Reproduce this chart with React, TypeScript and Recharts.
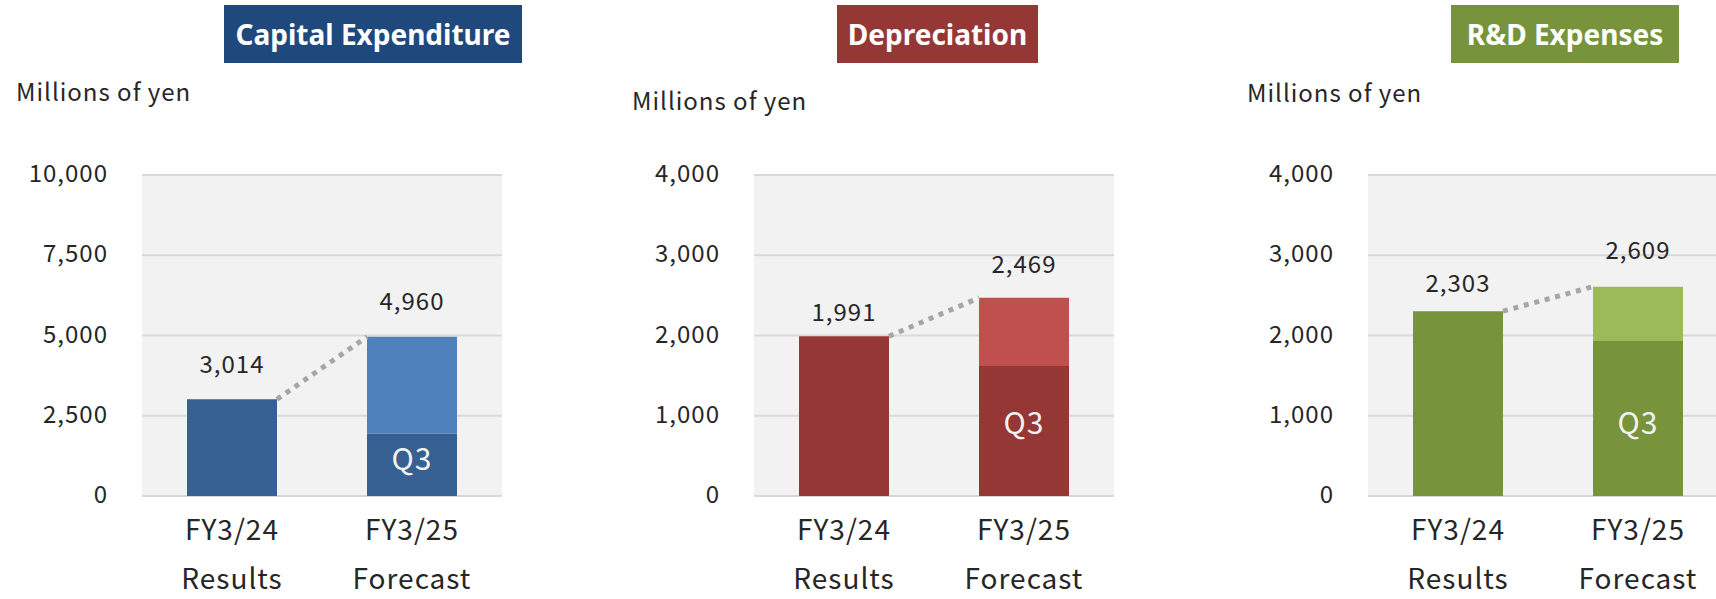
import React from 'react';
import { ComposedChart, Bar, Line, XAxis, YAxis, CartesianGrid, LabelList } from 'recharts';

// categories
const periods = ['FY3/24', 'FY3/25'];
const periodKinds = ['Results', 'Forecast'];
const q3Label = 'Q3';
const unitLabel = 'Millions of yen';

// values (millions of yen); base = full results bar / Q3 actual part of forecast
const capexTotals = [3014, 4960];
const capexBase = [3014, 1940];
const deprTotals = [1991, 2469];
const deprBase = [1991, 1620];
const rdTotals = [2303, 2609];
const rdBase = [2303, 1930];

// y-axis ticks
const capexTicks = [0, 2500, 5000, 7500, 10000];
const smallTicks = [0, 1000, 2000, 3000, 4000];

const FONT = "'Noto Sans CJK JP', 'Noto Sans', sans-serif";
const TEXT = '#262626';
const W = 1716;
const H = 599;
const PLOT_W = 360;
const AXIS_W = 130;
const PLOT_TOP = 175;
const PLOT_BOTTOM = 496;
const BAR_HALF = 0.25; // half bar width in category units (bar = 50% of band)

const buildRows = (totals: number[], base: number[]) =>
  periods.map((p, i) => ({
    period: p,
    base: base[i],
    rest: totals[i] - base[i],
    total: totals[i],
    // connector touches the facing edge of each bar
    linkX: i + 0.5 + (i === 0 ? BAR_HALF : -BAR_HALF),
  }));

const panels = [
  {
    title: 'Capital Expenditure', titleBg: '#1F497D', dark: '#376092', light: '#4F81BD',
    titleLeft: 224, titleWidth: 298, unitLeft: 16, unitBaseline: 101, plotLeft: 142,
    ticks: capexTicks, totals: capexTotals, base: capexBase, labelGaps: [26, 27], q3Shift: -8,
  },
  {
    title: 'Depreciation', titleBg: '#953735', dark: '#953735', light: '#C0504D',
    titleLeft: 837, titleWidth: 201, unitLeft: 632, unitBaseline: 110, plotLeft: 754,
    ticks: smallTicks, totals: deprTotals, base: deprBase, labelGaps: [15, 25], q3Shift: -10,
  },
  {
    title: 'R&D Expenses', titleBg: '#77933C', dark: '#77933C', light: '#9BBB59',
    titleLeft: 1451, titleWidth: 228, unitLeft: 1247, unitBaseline: 102, plotLeft: 1368,
    ticks: smallTicks, totals: rdTotals, base: rdBase, labelGaps: [19, 28], q3Shift: 2,
  },
];

const PeriodTick = (props: any) => {
  const { x, y, payload, index } = props;
  return (
    <g>
      <text x={x} y={y + 44} textAnchor="middle" fontSize={28} fill={TEXT}>{payload.value}</text>
      <text x={x} y={y + 93} textAnchor="middle" fontSize={28} fill={TEXT}>{periodKinds[index]}</text>
    </g>
  );
};

const ValueTick = (props: any) => {
  const { x, y, payload } = props;
  return (
    <text x={x} y={y} dy="0.3em" textAnchor="end" fontSize={24} fill={TEXT}>
      {Number(payload.value).toLocaleString('en-US')}
    </text>
  );
};

const Panel = ({ cfg }: { cfg: (typeof panels)[number] }) => {
  const rows = buildRows(cfg.totals, cfg.base);
  const max = cfg.ticks[cfg.ticks.length - 1];

  const totalText = (x: number, top: number, i: number) => (
    <text x={x} y={top - cfg.labelGaps[i]} textAnchor="middle" fontSize={24} fill={TEXT}>
      {rows[i].total.toLocaleString('en-US')}
    </text>
  );

  // base segment: Q3 tag on the forecast, total above a bar with no upper segment
  const renderBase = (p: any) => {
    const { x, y, width, height, value } = p;
    const i = rows.findIndex((r) => r.base === Number(value));
    if (i < 0) return null;
    if (rows[i].rest === 0) return totalText(x + width / 2, y, i);
    return (
      <text
        x={x + width / 2} y={y + height / 2 + cfg.q3Shift} textAnchor="middle"
        dominantBaseline="central" fontSize={30} fill="#F2F2F2"
      >
        {q3Label}
      </text>
    );
  };

  const renderRest = (p: any) => {
    const { x, y, width, value } = p;
    const i = rows.findIndex((r) => r.total === Number(value) && r.rest > 0);
    if (i < 0) return null;
    return totalText(x + width / 2, y, i);
  };

  return (
    <>
      <div
        style={{
          position: 'absolute', left: cfg.titleLeft, top: 5, width: cfg.titleWidth, height: 58,
          background: cfg.titleBg, color: '#fff', fontFamily: "'Noto Sans', sans-serif", fontWeight: 700,
          fontSize: 28, letterSpacing: 0, display: 'flex', alignItems: 'center', justifyContent: 'center',
        }}
      >
        {cfg.title}
      </div>
      <div style={{ position: 'absolute', left: cfg.unitLeft, top: cfg.unitBaseline - 22.5, fontSize: 24, lineHeight: '24px', color: TEXT, whiteSpace: 'nowrap' }}>
        {unitLabel}
      </div>
      <div style={{ position: 'absolute', left: cfg.plotLeft - AXIS_W, top: 0 }}>
        <ComposedChart
          width={AXIS_W + PLOT_W}
          height={H}
          data={rows}
          margin={{ top: PLOT_TOP, right: 0, bottom: 0, left: 0 }}
          barCategoryGap="25%"
        >
          <CartesianGrid xAxisId="cat" vertical={false} fill="#F2F2F2" stroke="#D9D9D9" strokeWidth={2} />
          <XAxis
            xAxisId="cat" dataKey="period" type="category" height={H - PLOT_BOTTOM}
            axisLine={false} tickLine={false} tickSize={0} tickMargin={0} interval={0} tick={<PeriodTick />}
          />
          <XAxis xAxisId="link" dataKey="linkX" type="number" domain={[0, 2]} hide />
          <YAxis
            domain={[0, max]} ticks={cfg.ticks} width={AXIS_W} axisLine={false} tickLine={false}
            tickSize={0} tickMargin={34} interval={0} tick={<ValueTick />}
          />
          <Bar xAxisId="cat" dataKey="base" stackId="s" fill={cfg.dark} isAnimationActive={false}>
            <LabelList dataKey="base" content={renderBase} />
          </Bar>
          <Bar xAxisId="cat" dataKey="rest" stackId="s" fill={cfg.light} isAnimationActive={false}>
            <LabelList dataKey="total" content={renderRest} />
          </Bar>
          <Line
            xAxisId="link" type="linear" dataKey="total" stroke="#A6A6A6" strokeWidth={5}
            strokeDasharray="5 5.8" dot={false} activeDot={false} isAnimationActive={false}
          />
        </ComposedChart>
      </div>
    </>
  );
};

export default function App() {
  return (
    <div
      style={{
        position: 'absolute', left: 0, top: 0, width: W, height: H, overflow: 'hidden',
        background: '#fff', fontFamily: FONT, letterSpacing: 1, color: TEXT,
      }}
    >
      {panels.map((cfg) => (
        <Panel key={cfg.title} cfg={cfg} />
      ))}
    </div>
  );
}
